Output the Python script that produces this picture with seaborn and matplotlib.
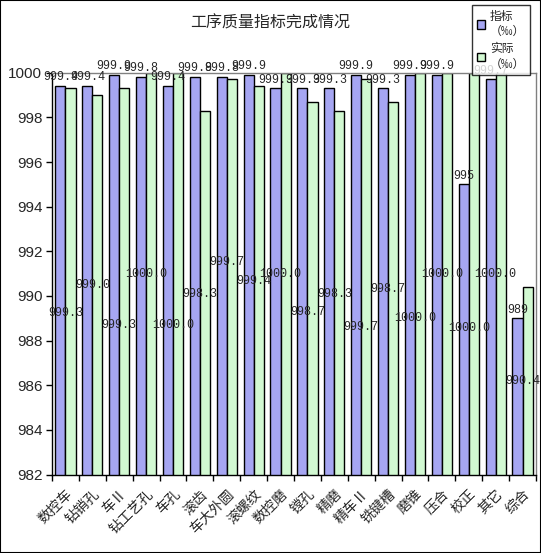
import matplotlib
matplotlib.use("Agg")
import matplotlib.pyplot as plt
import seaborn as sns
import pandas as pd
from matplotlib.ticker import MultipleLocator, FixedLocator
from matplotlib.patches import Rectangle

categories = ["数控车", "钻销孔", "车Ⅱ", "钻工艺孔", "车孔", "滚齿", "车大外圆", "滚螺纹", "数控磨",
              "镗孔", "精磨", "精车Ⅱ", "铣键槽", "磨锥", "压合", "校正", "其它", "综合"]
target = [999.4, 999.4, 999.9, 999.8, 999.4, 999.8, 999.8, 999.9, 999.3,
          999.3, 999.3, 999.9, 999.3, 999.9, 999.9, 995, 999.7, 989]
actual = [999.3, 999.0, 999.3, 1000.0, 1000.0, 998.3, 999.7, 999.4, 1000.0,
          998.7, 998.3, 999.7, 998.7, 1000.0, 1000.0, 1000.0, 1000.0, 990.4]
series_names = ["指标\n（‰）", "实际\n（‰）"]

# layout: heights (data units) where the "actual" labels were placed in the reference
actual_label_y = [989.25, 990.5, 988.7, 991.0, 988.7, 990.1, 991.5, 990.65, 991.0,
                  989.3, 990.1, 988.6, 990.3, 989.0, 991.0, 988.55, 991.0, 986.2]

sns.set_theme(style="white")
plt.rcParams['font.family'] = ['Noto Sans CJK SC', 'DejaVu Sans']

df = pd.DataFrame({
    "cat": categories * 2,
    "val": target + actual,
    "series": [series_names[0]] * len(categories) + [series_names[1]] * len(categories),
})

fig = plt.figure(figsize=(5.41, 5.53), dpi=100)
ax = fig.add_axes([52/541, 1 - 474.6/553, (536-52)/541, (474.6-72.7)/553])

sns.barplot(data=df, x="cat", y="val", hue="series", order=categories,
            palette=["#9999FF", "#CCFFCC"], edgecolor="black", linewidth=1.0,
            width=0.75, ax=ax, legend=True)

ax.set_ylim(982, 1000)
ax.set_xlim(-0.5, len(categories) - 0.5)
ax.yaxis.set_major_locator(MultipleLocator(2))
ax.set_xlabel("")
ax.set_ylabel("")

for s in ["left", "bottom"]:
    ax.spines[s].set_color("black")
    ax.spines[s].set_linewidth(1.0)
for s in ["top", "right"]:
    ax.spines[s].set_color("#808080")
    ax.spines[s].set_linewidth(1.0)

ax.tick_params(axis="y", which="major", direction="out", length=4, width=1, color="black",
               left=True, labelsize=11, pad=3)
ax.tick_params(axis="x", which="major", length=0, pad=9)
ax.xaxis.set_minor_locator(FixedLocator([i + 0.5 for i in range(-1, len(categories))]))
ax.tick_params(axis="x", which="minor", direction="out", length=4, width=1, color="black", bottom=True)
for lbl in ax.get_yticklabels():
    lbl.set_family(["Liberation Sans", "DejaVu Sans"])
ax.set_xticks(range(len(categories)))
ax.set_xticklabels(categories, rotation=45, ha="right", va="top", rotation_mode="anchor", fontsize=10)

mono = ["Liberation Mono", "DejaVu Sans Mono"]
blue_bars = ax.containers[0]
green_bars = ax.containers[1]
for bar, v in zip(blue_bars, target):
    txt = f"{v:g}" if float(v).is_integer() else f"{v:.1f}"
    ax.annotate(txt, (bar.get_x() + bar.get_width() / 2, bar.get_height()),
                xytext=(0, 2), textcoords="offset points", ha="center", va="bottom",
                fontsize=8.5, family=mono, annotation_clip=False)
for i, (bar, v) in enumerate(zip(green_bars, actual)):
    ax.text(bar.get_x(), actual_label_y[i], f"{v:.1f}", ha="center", va="center",
            fontsize=8.5, family=mono)

leg = ax.legend(loc="upper right", bbox_to_anchor=(530/541, 1 - 5/553), bbox_transform=fig.transFigure,
                fontsize=8.5, frameon=True, fancybox=False, edgecolor="black",
                handlelength=0.7, handleheight=0.7, handletextpad=0.4, borderpad=0.4,
                labelspacing=0.4, borderaxespad=0)
leg.get_frame().set_linewidth(1.0)

fig.text(270/541, 1 - 23/553, "工序质量指标完成情况", ha="center", va="center", fontsize=11.5)

fig.patches.append(Rectangle((0, 0), 1, 1, transform=fig.transFigure, fill=False,
                             edgecolor="black", linewidth=1.5))

fig.savefig("out.png", dpi=100)
